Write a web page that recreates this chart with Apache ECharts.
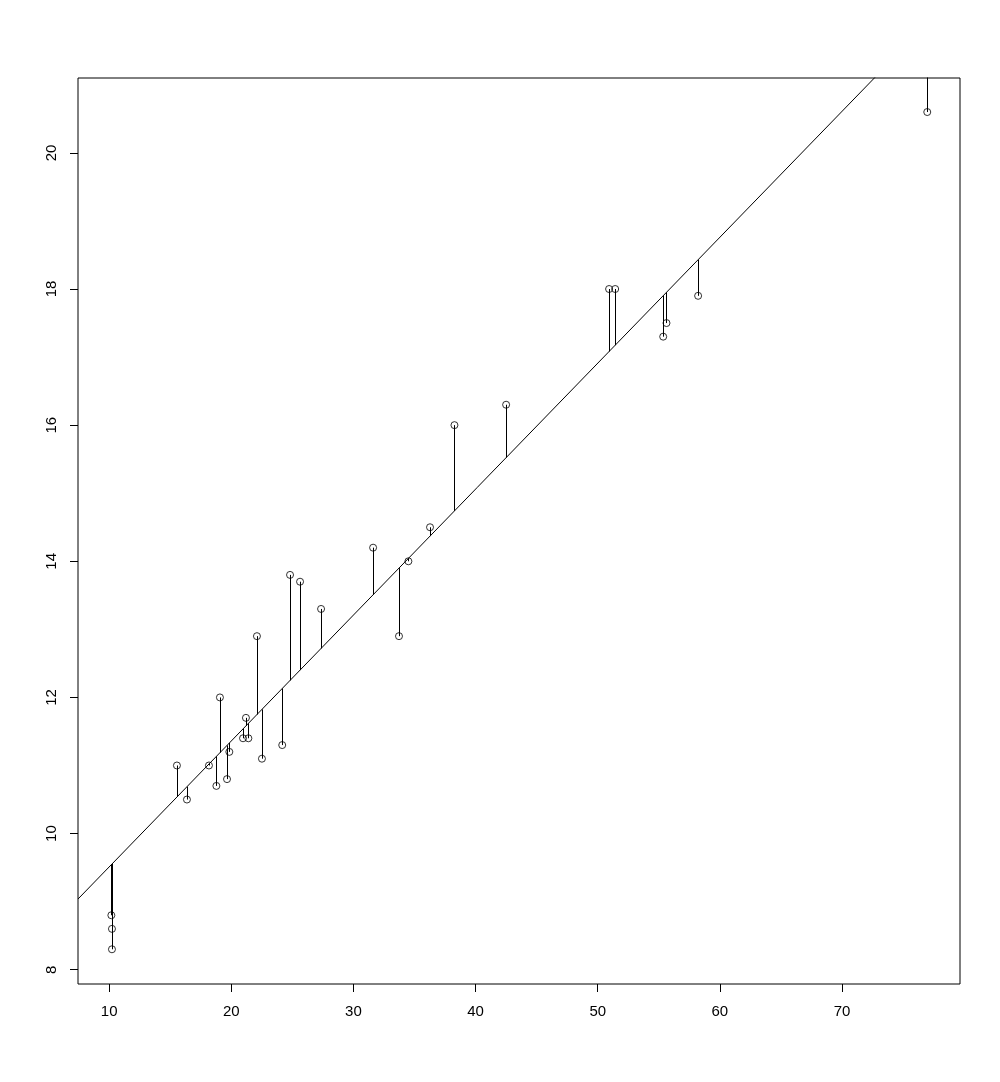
<!DOCTYPE html>
<html>
<head>
<meta charset="utf-8">
<script src="https://cdn.jsdelivr.net/npm/echarts@6/dist/echarts.min.js"></script>
<style>
  html, body { margin: 0; padding: 0; background: #fff; }
  #chart { width: 1000px; height: 1082px; }
</style>
</head>
<body>
<div id="chart"></div>
<script>
const xValues = [10.18, 10.23, 10.23, 15.55, 16.37, 18.17, 18.78, 19.07, 19.65, 19.84,
  20.96, 21.2, 21.4, 22.1, 22.51, 24.17, 24.81, 25.63, 27.35, 31.61,
  33.73, 34.5, 36.27, 38.27, 42.5, 50.93, 51.43, 55.36, 55.63, 58.22, 76.98]
const yValues = [8.8, 8.6, 8.3, 11.0, 10.5, 11.0, 10.7, 12.0, 10.8, 11.2,
  11.4, 11.7, 11.4, 12.9, 11.1, 11.3, 13.8, 13.7, 13.3, 14.2,
  12.9, 14.0, 14.5, 16.0, 16.3, 18.0, 18.0, 17.3, 17.5, 17.9, 20.6]

// fitted line
const intercept = 7.66
const slope = 0.185

const xTicks = [10, 20, 30, 40, 50, 60, 70]
const yTicks = [8, 10, 12, 14, 16, 18, 20]

const xMin = 7.45, xMax = 79.66
const yMin = 7.79, yMax = 21.1

const fit = (x) => intercept + slope * x

const myChart = echarts.init(document.getElementById('chart'))

const labelStyle = {
  color: '#000',
  fontSize: 15,
  fontFamily: 'Liberation Sans, Arial, sans-serif',
}

const option = {
  backgroundColor: '#fff',
  animation: false,
  grid: {
    left: 78,
    top: 78,
    right: 40,
    bottom: 98,
    show: true,
    borderColor: '#000',
    borderWidth: 1,
    backgroundColor: 'transparent',
  },
  xAxis: {
    type: 'value',
    min: xMin,
    max: xMax,
    splitLine: { show: false },
    axisLine: { show: false },
    axisTick: {
      show: true,
      length: 8,
      customValues: xTicks,
      lineStyle: { color: '#000' },
    },
    axisLabel: {
      ...labelStyle,
      margin: 20,
      customValues: xTicks,
    },
  },
  yAxis: {
    type: 'value',
    min: yMin,
    max: yMax,
    splitLine: { show: false },
    axisLine: { show: false },
    axisTick: {
      show: true,
      length: 8,
      customValues: yTicks,
      lineStyle: { color: '#000' },
    },
    axisLabel: {
      ...labelStyle,
      margin: 19,
      rotate: 90,
      customValues: yTicks,
    },
  },
  series: [
    {
      // residual segments
      type: 'lines',
      coordinateSystem: 'cartesian2d',
      clip: true,
      silent: true,
      lineStyle: { color: '#000', width: 1, opacity: 1 },
      data: xValues.map((x, i) => ({ coords: [[x, yValues[i]], [x, fit(x)]] })),
    },
    {
      // regression line
      type: 'line',
      clip: true,
      symbol: 'none',
      silent: true,
      lineStyle: { color: '#000', width: 1 },
      data: [[xMin, fit(xMin)], [xMax, fit(xMax)]],
    },
    {
      type: 'scatter',
      symbol: 'circle',
      symbolSize: 7,
      itemStyle: { color: 'rgba(0,0,0,0)', borderColor: '#000', borderWidth: 1 },
      data: xValues.map((x, i) => [x, yValues[i]]),
    },
  ],
}

option && myChart.setOption(option)
</script>
</body>
</html>
